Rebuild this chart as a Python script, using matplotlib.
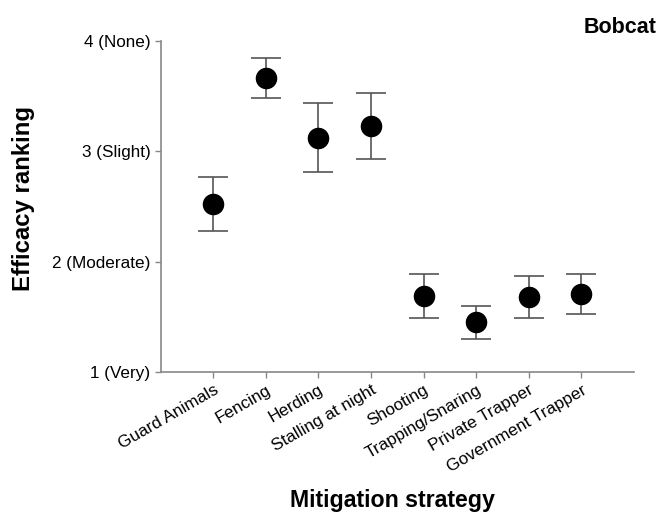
import numpy as np
import matplotlib
matplotlib.use('Agg')
import matplotlib.pyplot as plt

plt.rcParams['font.family'] = ['Liberation Sans', 'DejaVu Sans']

strategies = ['Guard Animals', 'Fencing', 'Herding', 'Stalling at night', 'Shooting',
              'Trapping/Snaring', 'Private Trapper', 'Government Trapper']
means = [2.52, 3.665, 3.12, 3.23, 1.693, 1.452, 1.684, 1.706]
upper = [2.765, 3.85, 3.44, 3.53, 1.89, 1.597, 1.874, 1.887]
lower = [2.28, 3.48, 2.81, 2.93, 1.494, 1.30, 1.485, 1.525]
yticks = [1, 2, 3, 4]
ylabels = ['1 (Very)', '2 (Moderate)', '3 (Slight)', '4 (None)']

x = np.arange(1, len(strategies) + 1)
err = [np.array(means) - np.array(lower), np.array(upper) - np.array(means)]

fig = plt.figure(figsize=(6.66, 5.23), dpi=100)
ax = fig.add_axes([0.2413, 0.2887, 0.7107, 0.6329])

ax.errorbar(x, means, yerr=err, fmt='none', ecolor='#555555', elinewidth=1.2,
            capsize=10.5, capthick=1.2, zorder=1)
ax.plot(x, means, 'o', color='black', markersize=14.5, zorder=2)

ax.set_xlim(0, 9)
ax.set_ylim(1, 4)
ax.set_xticks(x)
ax.set_xticklabels(strategies, rotation=30, ha='right', rotation_mode='anchor', fontsize=12.3)
ax.set_yticks(yticks)
ax.set_yticklabels(ylabels, fontsize=12.3)

for side in ['top', 'right']:
    ax.spines[side].set_visible(False)
for side in ['left', 'bottom']:
    ax.spines[side].set_color('#888888')
    ax.spines[side].set_linewidth(1.2)
ax.tick_params(direction='out', length=4, color='#888888', width=1)

fig.text(0.035, 0.62, 'Efficacy ranking', fontsize=17.3, fontweight='bold',
         rotation=90, ha='center', va='center')
fig.text(0.589, 0.03, 'Mitigation strategy', fontsize=16.7, fontweight='bold', ha='center')
fig.text(0.986, 0.948, 'Bobcat', fontsize=15.5, fontweight='bold', ha='right', va='center')

fig.savefig('out.png', dpi=100)
